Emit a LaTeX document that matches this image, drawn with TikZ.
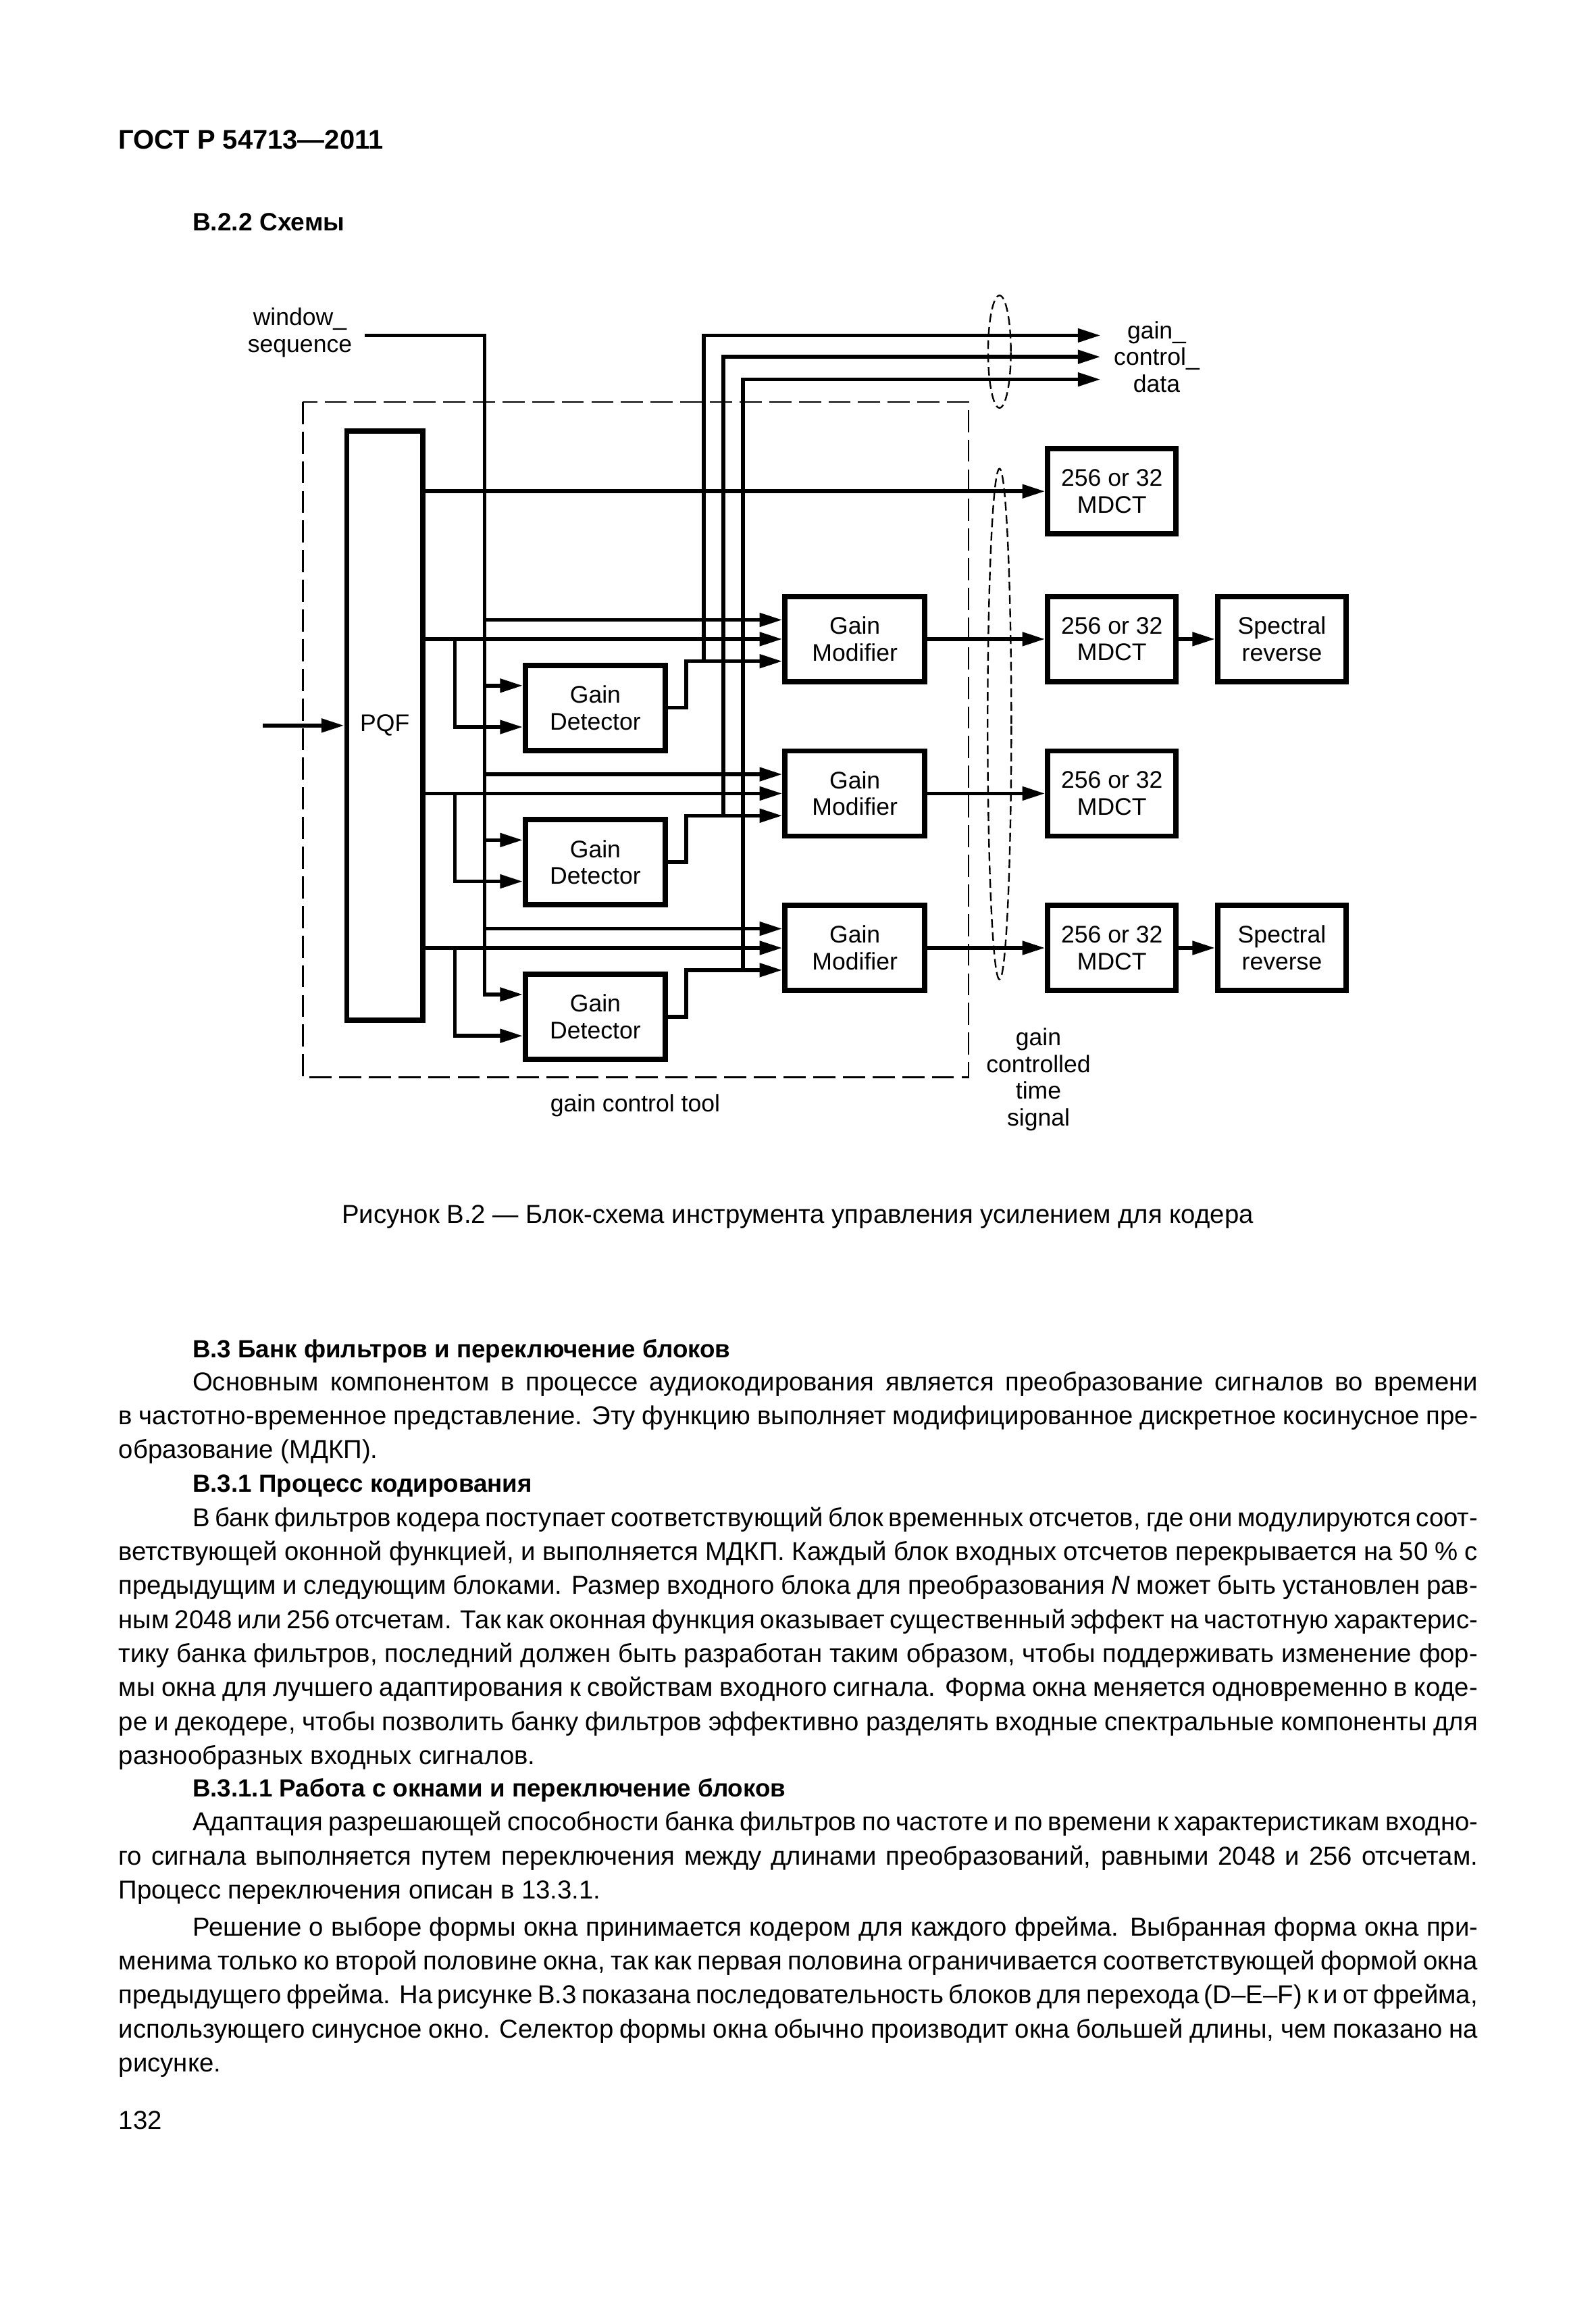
\documentclass[tikz,border=0pt]{standalone}
\usepackage{fontspec}
\setmainfont{Liberation Sans}
\usetikzlibrary{arrows.meta,calc}

\newcommand{\bodyfont}{\fontsize{9.7}{12}\selectfont}
\newcommand{\headfont}{\fontsize{9.3}{12}\selectfont\bfseries}
\newcommand{\figfont}{\fontsize{9}{10}\selectfont}
\newlength{\fullw}\setlength{\fullw}{178.9mm}
\newlength{\indw}\setlength{\indw}{169.2mm}

\tikzset{
  block/.style={draw, line width=2pt, align=center, inner sep=0pt, font=\figfont},
  gainbox/.style={block, minimum width=18.4mm, minimum height=11.2mm},
  mdctbox/.style={block, minimum width=16.9mm, minimum height=11.2mm},
  sig/.style={line width=1.4pt},
  lbl/.style={align=center, inner sep=0pt, font=\figfont},
  txt/.style={anchor=base west, inner sep=0pt, font=\bodyfont},
  head/.style={anchor=base west, inner sep=0pt, font=\headfont},
  toolbox/.style={line width=0.7pt, dash pattern=on 8.3pt off 2.8pt},
  bundle/.style={line width=0.6pt, dash pattern=on 3.3pt off 1.7pt}
}

\begin{document}
\begin{tikzpicture}[x=0.19444mm, y=-0.19444mm, >={Triangle[length=8.5pt,width=5pt]}]
\fill[white] (0,0) rectangle (1080,1566);
\useasboundingbox (0,0) rectangle (1080,1566);

%Page head
\node[head, font=\fontsize{10.1}{12}\selectfont\bfseries] (hdr) at (80,101) {ГОСТ Р 54713—2011};
\node[head, font=\fontsize{9.4}{12}\selectfont\bfseries] (sect) at (130,156) {В.2.2 Схемы};

%Boxes
\node[block, minimum width=10mm, minimum height=77.5mm] (pqf) at (260.5,491) {PQF};
\node[gainbox] (gd1) at (403,479) {Gain\\Detector};
\node[gainbox] (gd2) at (403,583.5) {Gain\\Detector};
\node[gainbox] (gd3) at (403,688) {Gain\\Detector};
\node[gainbox] (gm1) at (578.7,432.5) {Gain\\Modifier};
\node[gainbox] (gm2) at (578.7,537) {Gain\\Modifier};
\node[gainbox] (gm3) at (578.7,641.5) {Gain\\Modifier};
\node[mdctbox] (mdct0) at (752.7,332.5) {256 or 32\\MDCT};
\node[mdctbox] (mdct1) at (752.7,432.5) {256 or 32\\MDCT};
\node[mdctbox] (mdct2) at (752.7,537) {256 or 32\\MDCT};
\node[mdctbox] (mdct3) at (752.7,641.5) {256 or 32\\MDCT};
\node[mdctbox] (spr1) at (867.8,432.5) {Spectral\\reverse};
\node[mdctbox] (spr3) at (867.8,641.5) {Spectral\\reverse};

%Names
\node[lbl] (wseq) at (203,225) {window\_\\sequence};
\node[lbl] (gcd) at (783,241.5) {gain\_\\control\_\\data};
\node[lbl] (gcts) at (703,730.5) {gain\\controlled\\time\\signal};
\node[lbl] (tool) at (430,748) {gain control tool};

%Dashed outlines
\draw[toolbox] (205,272) rectangle (655.7,729);
\draw[bundle] (676.6,238) ellipse [x radius=1.5mm, y radius=7.4mm];
\draw[bundle] (676.6,490) ellipse [x radius=1.56mm, y radius=33.6mm];

%Points
\coordinate (in) at (178,491);
\coordinate (wsin) at (247,227);
\coordinate (wbus) at (328,227);
\coordinate (pbus) at (308,0);
\coordinate (dbus) at (464.6,0);
\coordinate (cbus1) at (476.4,0);
\coordinate (cbus2) at (489.7,0);
\coordinate (cbus3) at (503,0);
\coordinate (gcd1) at (745,227);
\coordinate (gcd2) at (745,241.5);
\coordinate (gcd3) at (745,256.8);
\coordinate (gm1a) at ($(gm1.west)+(0,-13)$);
\coordinate (gm1c) at ($(gm1.west)+(0,15)$);
\coordinate (gm2a) at ($(gm2.west)+(0,-13)$);
\coordinate (gm2c) at ($(gm2.west)+(0,15)$);
\coordinate (gm3a) at ($(gm3.west)+(0,-13)$);
\coordinate (gm3c) at ($(gm3.west)+(0,15)$);
\coordinate (gd1a) at ($(gd1.west)+(0,-15)$);
\coordinate (gd1b) at ($(gd1.west)+(0,13)$);
\coordinate (gd2a) at ($(gd2.west)+(0,-15)$);
\coordinate (gd2b) at ($(gd2.west)+(0,13)$);
\coordinate (gd3a) at ($(gd3.west)+(0,-15)$);
\coordinate (gd3b) at ($(gd3.west)+(0,13)$);

%Arrows
%Input and window_sequence
\draw[sig,->] (in) -- (pqf.west);
\draw[sig,->] (wsin) -- (wbus) |- (gd3a);
\draw[sig,->] (wbus |- gm1a) -- (gm1a);
\draw[sig,->] (wbus |- gd1a) -- (gd1a);
\draw[sig,->] (wbus |- gm2a) -- (gm2a);
\draw[sig,->] (wbus |- gd2a) -- (gd2a);
\draw[sig,->] (wbus |- gm3a) -- (gm3a);
%PQF outputs
\draw[sig,->] (pqf.east |- mdct0) -- (mdct0.west);
\draw[sig,->] (pqf.east |- gm1) -- (gm1.west);
\draw[sig,->] (pqf.east |- gm2) -- (gm2.west);
\draw[sig,->] (pqf.east |- gm3) -- (gm3.west);
\draw[sig,->] (pbus |- gm1) |- (gd1b);
\draw[sig,->] (pbus |- gm2) |- (gd2b);
\draw[sig,->] (pbus |- gm3) |- (gd3b);
%Detector outputs
\draw[sig,->] (gd1.east) -| (dbus |- gm1c) -- (gm1c);
\draw[sig,->] (gd2.east) -| (dbus |- gm2c) -- (gm2c);
\draw[sig,->] (gd3.east) -| (dbus |- gm3c) -- (gm3c);
\draw[sig,->] (cbus1 |- gm1c) |- (gcd1);
\draw[sig,->] (cbus2 |- gm2c) |- (gcd2);
\draw[sig,->] (cbus3 |- gm3c) |- (gcd3);
%Right side
\draw[sig,->] (gm1.east) -- (mdct1.west);
\draw[sig,->] (gm2.east) -- (mdct2.west);
\draw[sig,->] (gm3.east) -- (mdct3.west);
\draw[sig,->] (mdct1.east) -- (spr1.west);
\draw[sig,->] (mdct3.east) -- (spr3.west);

%Caption
\node[anchor=base, inner sep=0pt, font=\bodyfont] (capt) at (540,828) {Рисунок В.2 — Блок-схема инструмента управления усилением для кодера};

%Text
\node[head] (h1) at (130,919) {В.3 Банк фильтров и переключение блоков};
\node[txt] (t1) at (130,941) {\makebox[\indw][s]{Основным компонентом в процессе  аудиокодирования  является  преобразование  сигналов  во  времени}};
\node[txt] (t2) at (80,964) {\makebox[\fullw][s]{в частотно-временное представление. Эту функцию выполняет модифицированное дискретное косинусное пре-}};
\node[txt] (t3) at (80,987) {образование (МДКП).};
\node[head] (h2) at (130,1010) {В.3.1 Процесс кодирования};
\node[txt] (t4) at (130,1033) {\makebox[\indw][s]{В банк фильтров кодера поступает соответствующий блок временных отсчетов, где они модулируются соот-}};
\node[txt] (t5) at (80,1056) {\makebox[\fullw][s]{ветствующей оконной функцией, и выполняется МДКП. Каждый блок входных отсчетов перекрывается на 50 \% с}};
\node[txt] (t6) at (80,1079) {\makebox[\fullw][s]{предыдущим и следующим блоками. Размер входного блока для преобразования \textit{N} может быть установлен рав-}};
\node[txt] (t7) at (80,1102) {\makebox[\fullw][s]{ным 2048 или 256 отсчетам. Так как оконная функция оказывает существенный эффект на частотную характерис-}};
\node[txt] (t8) at (80,1125) {\makebox[\fullw][s]{тику банка фильтров, последний должен быть разработан таким образом, чтобы поддерживать изменение фор-}};
\node[txt] (t9) at (80,1148) {\makebox[\fullw][s]{мы окна для лучшего адаптирования к свойствам входного сигнала. Форма окна меняется одновременно в коде-}};
\node[txt] (t10) at (80,1171) {\makebox[\fullw][s]{ре и декодере, чтобы позволить банку фильтров эффективно разделять входные спектральные компоненты для}};
\node[txt] (t11) at (80,1194) {разнообразных входных сигналов.};
\node[head] (h3) at (130,1216) {В.3.1.1 Работа с окнами и переключение блоков};
\node[txt] (t12) at (130,1239) {\makebox[\indw][s]{Адаптация разрешающей способности банка фильтров по частоте и по времени к характеристикам входно-}};
\node[txt] (t13) at (80,1262) {\makebox[\fullw][s]{го сигнала выполняется путем переключения между длинами преобразований, равными 2048 и 256 отсчетам.}};
\node[txt] (t14) at (80,1285) {Процесс переключения описан в 13.3.1.};
\node[txt] (t15) at (130,1310) {\makebox[\indw][s]{Решение о выборе формы окна принимается кодером для каждого фрейма. Выбранная форма окна при-}};
\node[txt] (t16) at (80,1333) {\makebox[\fullw][s]{менима только ко второй половине окна, так как первая половина ограничивается соответствующей формой окна}};
\node[txt] (t17) at (80,1356) {\makebox[\fullw][s]{предыдущего фрейма. На рисунке В.3 показана последовательность блоков для перехода (D–E–F) к и от фрейма,}};
\node[txt] (t18) at (80,1379) {\makebox[\fullw][s]{использующего синусное окно. Селектор формы окна обычно производит окна большей длины, чем показано на}};
\node[txt] (t19) at (80,1402) {рисунке.};
\node[txt] (pg) at (80,1441) {132};

\end{tikzpicture}
\end{document}
